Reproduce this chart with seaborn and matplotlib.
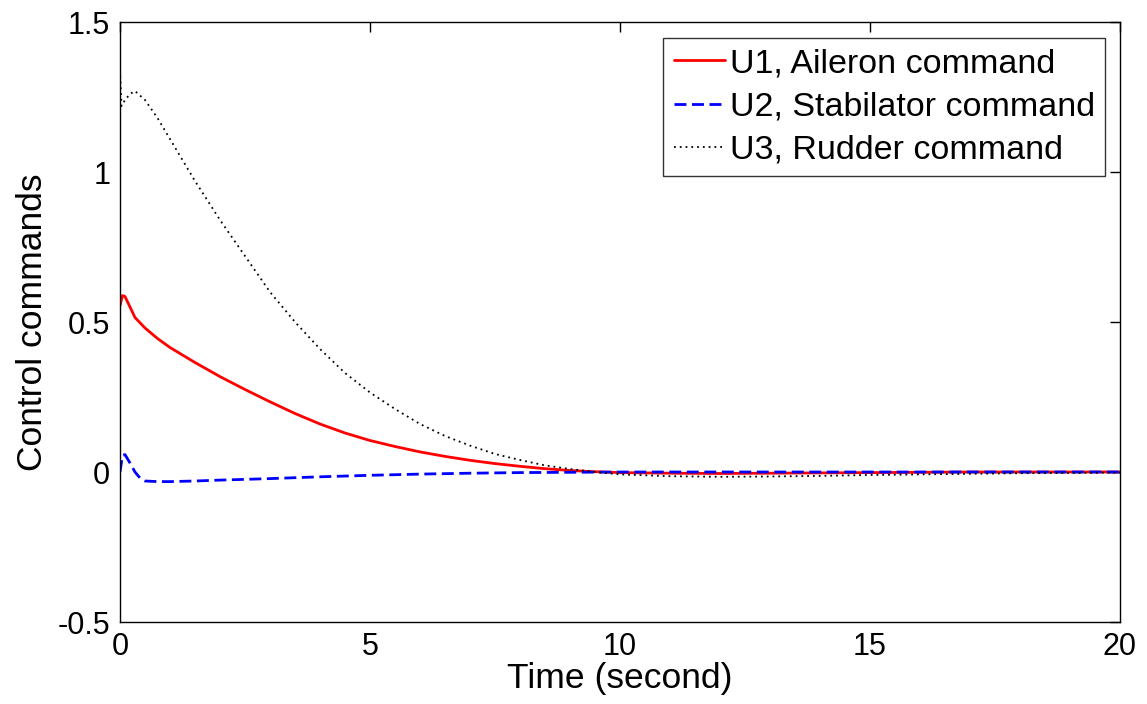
import pandas as pd
import matplotlib
matplotlib.use("Agg")
import matplotlib.pyplot as plt
import seaborn as sns

# time (s) and control command values
t_u1 = [0, 0.05, 0.1, 0.2, 0.3, 0.5, 0.75, 1, 1.5, 2, 2.5, 3, 3.5, 4, 4.5, 5,
        5.5, 6, 6.5, 7, 7.5, 8, 8.5, 9, 9.5, 10, 11, 12, 13, 14, 15, 16, 17,
        18, 19, 20]
u1 = [0.555, 0.588, 0.585, 0.55, 0.515, 0.48, 0.445, 0.415, 0.365, 0.318,
      0.275, 0.234, 0.195, 0.16, 0.13, 0.105, 0.085, 0.067, 0.052, 0.039,
      0.028, 0.019, 0.011, 0.005, 0.001, -0.002, -0.004, -0.005, -0.004,
      -0.003, -0.002, -0.001, 0.0, 0.0, 0.0, 0.0]

t_u2 = [0, 0.05, 0.1, 0.2, 0.3, 0.4, 0.5, 0.75, 1, 1.5, 2, 3, 4, 5, 6, 7, 8,
        9, 10, 12, 14, 16, 18, 20]
u2 = [0.0, 0.055, 0.058, 0.03, 0.0, -0.02, -0.03, -0.032, -0.032, -0.03,
      -0.027, -0.022, -0.016, -0.011, -0.007, -0.004, -0.002, -0.001, 0.0,
      0.0, 0.0, 0.0, 0.0, 0.0]

t_u3 = [0, 0.03, 0.1, 0.2, 0.3, 0.5, 0.75, 1, 1.5, 2, 2.5, 3, 3.5, 4, 4.5, 5,
        5.5, 6, 6.5, 7, 7.5, 8, 8.5, 9, 9.5, 10, 11, 12, 13, 14, 15, 16, 17,
        18, 19, 20]
u3 = [1.34, 1.22, 1.24, 1.26, 1.27, 1.24, 1.18, 1.11, 0.97, 0.84, 0.72, 0.60,
      0.50, 0.41, 0.33, 0.265, 0.21, 0.16, 0.12, 0.088, 0.06, 0.04, 0.022,
      0.01, 0.0, -0.008, -0.014, -0.016, -0.015, -0.013, -0.01, -0.008,
      -0.006, -0.004, -0.003, -0.002]

labels = ["U1, Aileron command", "U2, Stabilator command", "U3, Rudder command"]

sns.set_theme(style="white")
plt.rcParams['font.family'] = ['Liberation Sans', 'DejaVu Sans']

fig = plt.figure(figsize=(11.47, 7.04), dpi=100)
ax = fig.add_axes([120 / 1147, 1 - 622 / 704, 1000 / 1147, 600 / 704])

sns.lineplot(x=t_u1, y=u1, ax=ax, color='#ff0000', lw=2, label=labels[0])
sns.lineplot(x=t_u2, y=u2, ax=ax, color='#0000ff', lw=2, label=labels[1],
             linestyle=(0, (4.3, 2)))
sns.lineplot(x=t_u3, y=u3, ax=ax, color='black', lw=1.3, label=labels[2],
             linestyle=(0, (1, 2.2)))

ax.set_xlim(0, 20)
ax.set_ylim(-0.5, 1.5)
ax.set_xticks([0, 5, 10, 15, 20])
ax.set_yticks([-0.5, 0, 0.5, 1, 1.5])
ax.set_xticklabels(['0', '5', '10', '15', '20'])
ax.set_yticklabels(['-0.5', '0', '0.5', '1', '1.5'])
ax.tick_params(direction='in', length=7, width=1, top=True, right=True,
               labelsize=22, colors='black', pad=7)
for s in ax.spines.values():
    s.set_color('black')
    s.set_linewidth(1)
ax.set_xlabel('Time (second)', fontsize=25.5, labelpad=0, color='black')
ax.set_ylabel('Control commands', fontsize=25.5, labelpad=6, color='black')

leg = ax.legend(loc='upper right', bbox_to_anchor=(0.985, 0.973), fontsize=24.5,
                frameon=True, fancybox=False, edgecolor='black',
                handlelength=1.5, handletextpad=0.15, borderpad=0.3,
                labelspacing=0.36, borderaxespad=0)
leg.get_frame().set_linewidth(1)
for txt in leg.get_texts():
    txt.set_color('black')

fig.savefig('out.png', dpi=100)
